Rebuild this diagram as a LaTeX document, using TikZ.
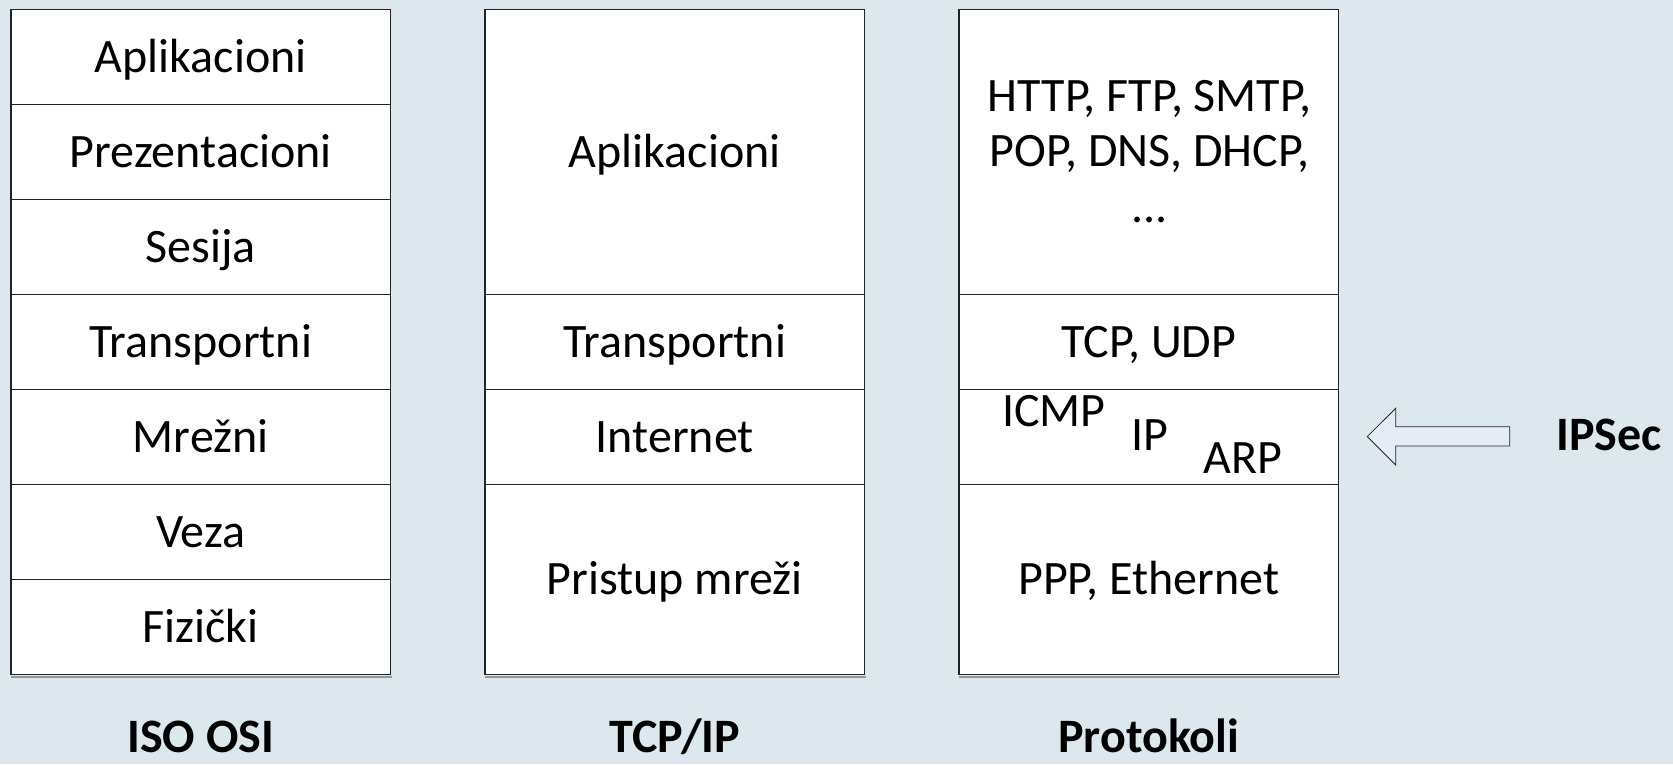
\documentclass[tikz,border=0pt]{standalone}
\usepackage{fontspec}
\setmainfont{Carlito}
\usetikzlibrary{calc}
\definecolor{bgc}{RGB}{221,232,238}
\definecolor{arrowfill}{RGB}{230,236,247}
\definecolor{edgec}{RGB}{35,35,35}
\definecolor{shadowc}{RGB}{150,150,150}
\begin{document}
\begin{tikzpicture}[x=1pt,y=-1pt,
  cell/.style={draw=edgec, line width=1.2pt, fill=white, minimum width=379.5pt,
    inner sep=0pt, text height=30pt, text depth=0pt, font=\fontsize{48}{55}\selectfont},
  lbl/.style={anchor=base, inner sep=0pt, font=\fontsize{48}{55}\selectfont},
  ttl/.style={anchor=base, inner sep=0pt, font=\fontsize{48}{55}\selectfont\bfseries},
  shadowline/.style={draw=shadowc, line width=1.6pt}]
\fill[bgc] (0,0) rectangle (1673,764);
\useasboundingbox (0,0) rectangle (1673,764);

% ISO OSI column
\node[cell, minimum height=95pt] (o1) at (200.75,57) {Aplikacioni};
\node[cell, minimum height=95pt] (o2) at (200.75,152) {Prezentacioni};
\node[cell, minimum height=95pt] (o3) at (200.75,247) {Sesija};
\node[cell, minimum height=95pt] (o4) at (200.75,342) {Transportni};
\node[cell, minimum height=95pt] (o5) at (200.75,437) {Mrežni};
\node[cell, minimum height=95pt] (o6) at (200.75,532) {Veza};
\node[cell, minimum height=95pt] (o7) at (200.75,627) {Fizički};

% TCP/IP column
\node[cell, minimum height=285pt] (t1) at (674.75,152) {Aplikacioni};
\node[cell, minimum height=95pt] (t2) at (674.75,342) {Transportni};
\node[cell, minimum height=95pt] (t3) at (674.75,437) {Internet};
\node[cell, minimum height=190pt] (t4) at (674.75,579.5) {Pristup mreži};

% Protocols column
\node[cell, minimum height=285pt] (p1) at (1148.75,152) {};
\node[cell, minimum height=95pt] (p2) at (1148.75,342) {TCP, UDP};
\node[cell, minimum height=95pt] (p3) at (1148.75,437) {};
\node[cell, minimum height=190pt] (p4) at (1148.75,579.5) {PPP, Ethernet};

% shadows under columns
\draw[shadowline] ($(o7.south west)+(1,2)$) -- ($(o7.south east)+(1,2)$);
\draw[shadowline] ($(t4.south west)+(1,2)$) -- ($(t4.south east)+(1,2)$);
\draw[shadowline] ($(p4.south west)+(1,2)$) -- ($(p4.south east)+(1,2)$);

% application protocols
\node[lbl] (h1) at (1149.5,111.5) {HTTP, FTP, SMTP,};
\node[lbl] (h2) at (1149.5,166.5) {POP, DNS, DHCP,};
\node[lbl] (h3) at (1149.5,222) {...};

% internet layer protocols
\node[lbl] (icmp) at (1054,426.7) {ICMP};
\node[lbl] (ip) at (1149.7,450) {IP};
\node[lbl] (arp) at (1243,473.3) {ARP};

% IPSec and arrow
\node[ttl] (ipsec) at (1609,450) {IPSec};
\draw[draw=edgec, fill=arrowfill, line width=0.8pt, line join=miter]
  (1367.3,436.5) -- (1395.7,408.3) -- (1395.7,426.7) -- (1509.7,426.7)
  -- (1509.7,446) -- (1395.7,446) -- (1395.7,465) -- cycle;

% titles
\node[ttl, text depth=0pt] (iso) at (200.75,752) {ISO OSI};
\node[ttl, text depth=0pt] (tcpip) at (674.75,752) {TCP/IP};
\node[ttl, text depth=0pt] (prot) at (1148.75,752) {Protokoli};
\end{tikzpicture}
\end{document}
